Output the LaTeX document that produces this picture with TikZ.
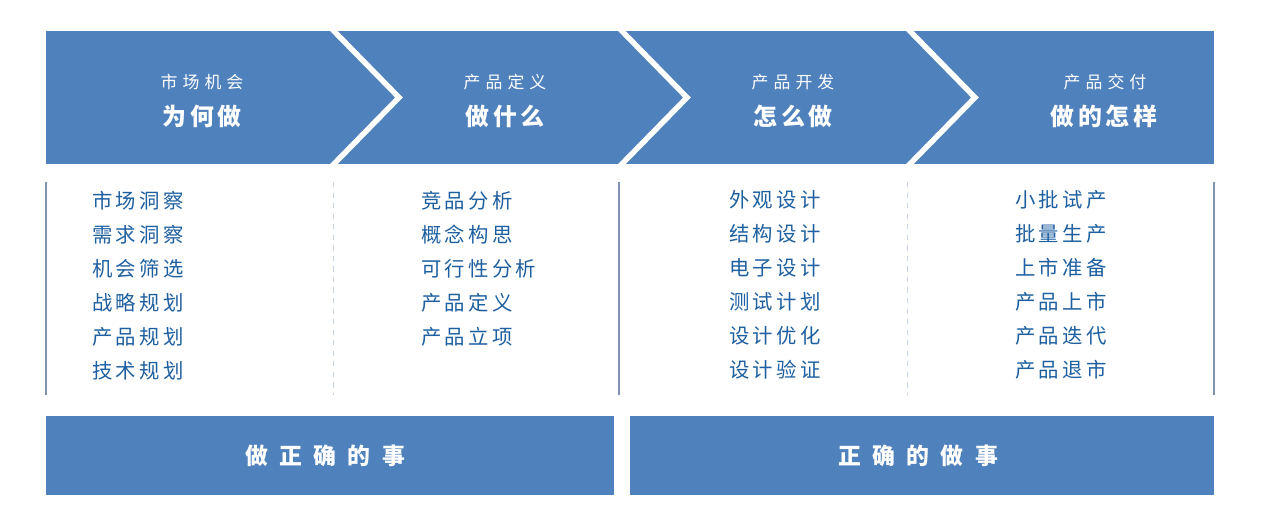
\documentclass[tikz,border=0pt]{standalone}
\usepackage{fontspec}
\usetikzlibrary{positioning}
\newfontfamily\cjkhead{Noto Sans CJK SC}[LetterSpace=30]
\newfontfamily\cjkask{Noto Sans CJK SC}[LetterSpace=15]
\newfontfamily\cjklist{Noto Sans CJK SC}[LetterSpace=16]
\newfontfamily\cjkgoal{Noto Sans CJK SC}[LetterSpace=50]
\definecolor{chevblue}{HTML}{4F81BD}
\definecolor{listblue}{HTML}{1E5FA0}
\definecolor{rulegray}{HTML}{7F93B0}
\definecolor{faintblue}{HTML}{C5D5E5}

\begin{document}
\begin{tikzpicture}[x=0.02cm,y=-0.02cm,
sep/.style={draw=white, line width=3.1pt},
stage/.style={font=\cjkhead\fontsize{9.6}{9.6}\selectfont, text=white, inner sep=0pt},
ask/.style={font=\cjkask\bfseries\fontsize{13.6}{13.6}\selectfont, text=white, inner sep=0pt},
task/.style={font=\cjklist\fontsize{11.6}{19.35}\selectfont, text=listblue, align=left, anchor=north west, inner sep=0pt},
rule/.style={draw=rulegray, line width=0.6pt},
faint/.style={draw=faintblue, line width=0.5pt, dashed},
goal/.style={fill=chevblue, minimum height=1.58cm, inner sep=0pt, font=\cjkgoal\bfseries\fontsize{13}{13}\selectfont, text=white}]
\useasboundingbox (0,0) rectangle (1269,531);
% chevron band
\fill[chevblue] (46,31) rectangle (1214,164);
\draw[sep] (330,27) -- (399,97.5) -- (330,168);
\draw[sep] (618,27) -- (687,97.5) -- (618,168);
\draw[sep] (906,27) -- (975,97.5) -- (906,168);
% stage titles
\node[stage] (s1) at (202,82) {市场机会};
\node[ask] (q1) at (202,116.5) {为何做};
\node[stage] (s2) at (505,82) {产品定义};
\node[ask] (q2) at (505,116.5) {做什么};
\node[stage] (s3) at (793,82) {产品开发};
\node[ask] (q3) at (793,116.5) {怎么做};
\node[stage] (s4) at (1105,82) {产品交付};
\node[ask] (q4) at (1104,116.5) {做的怎样};
% column rules
\draw[rule] (46,182) -- (46,395);
\draw[faint] (333,182) -- (333,395);
\draw[rule] (619,182) -- (619,395);
\draw[faint] (907,182) -- (907,395);
\draw[rule] (1214,182) -- (1214,395);
% task lists
\node[task] (l1) at (92,190.5) {市场洞察\\需求洞察\\机会筛选\\战略规划\\产品规划\\技术规划};
\node[task] (l2) at (421,190.5) {竞品分析\\概念构思\\可行性分析\\产品定义\\产品立项};
\node[task] (l3) at (729,190.5) {外观设计\\结构设计\\电子设计\\测试计划\\设计优化\\设计验证};
\node[task] (l4) at (1015,190.5) {小批试产\\批量生产\\上市准备\\产品上市\\产品迭代\\产品退市};
% bottom goals
\node[goal, minimum width=11.36cm] (g1) at (330,455.5) {\hspace*{-0.2cm}做正确的事};
\node[goal, minimum width=11.68cm] (g2) at (922,455.5) {\hspace*{-0.16cm}正确的做事};
\end{tikzpicture}
\end{document}
